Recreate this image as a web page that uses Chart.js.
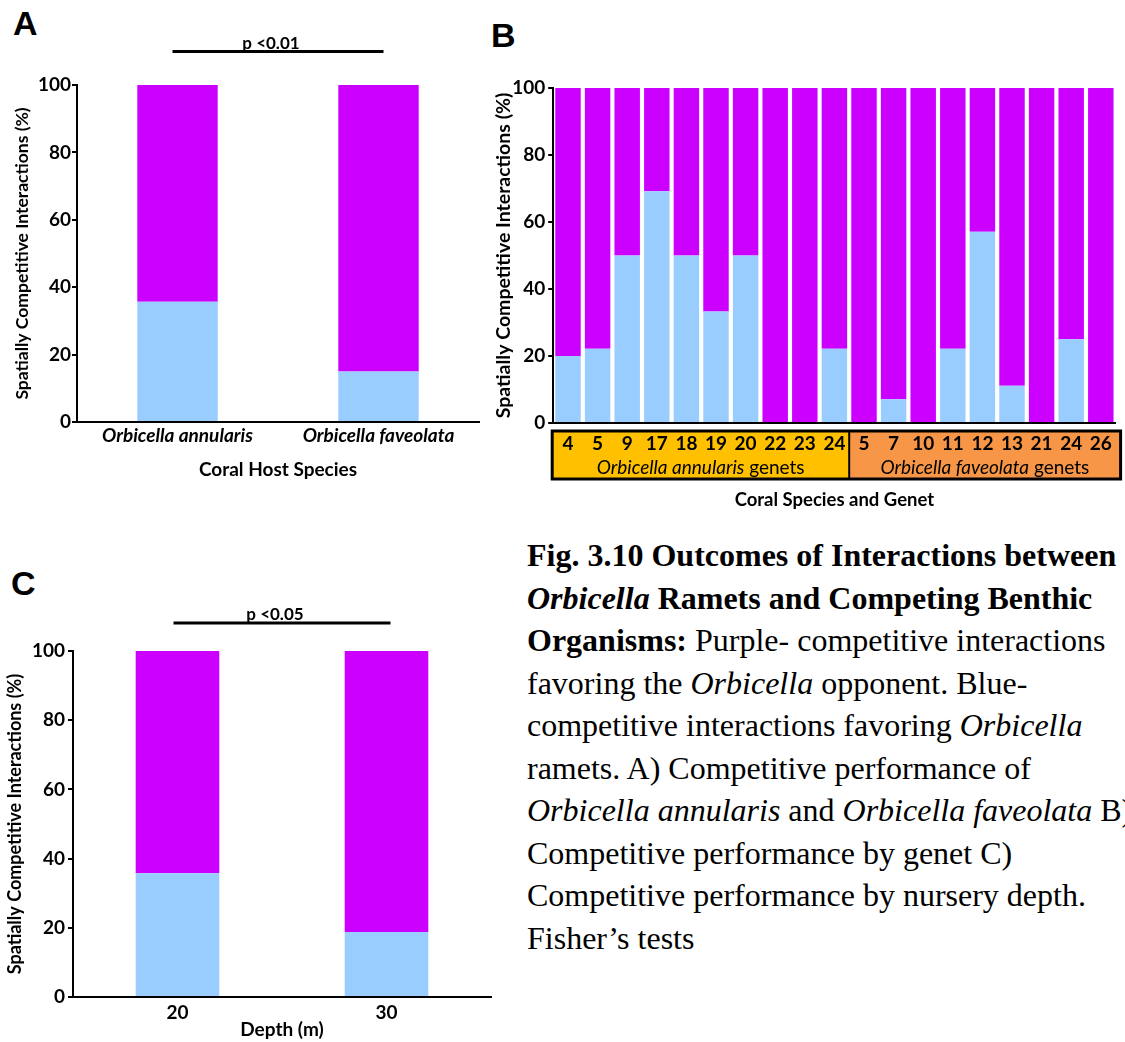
<!DOCTYPE html>
<html>
<head>
<meta charset="utf-8">
<script src="https://cdn.jsdelivr.net/npm/chart.js@4.4.1/dist/chart.umd.min.js"></script>
<style>
  body { margin: 0; width: 1125px; height: 1042px; overflow: hidden; background: #fff; position: relative; }
  canvas { position: absolute; }
  .panel { position: absolute; font: bold 34px "Liberation Sans", Arial, sans-serif; line-height: 34px; }
  #caption {
    position: absolute; left: 527px; top: 534px;
    font-family: "Liberation Serif", "Times New Roman", serif;
    font-size: 32px; line-height: 42.5px; white-space: nowrap; color: #000;
  }
</style>
</head>
<body>
<div class="panel" style="left:13px;top:6px">A</div>
<div class="panel" style="left:491px;top:18px">B</div>
<div class="panel" style="left:11px;top:566px">C</div>

<canvas id="chartA" width="480" height="490" style="left:0;top:0"></canvas>
<canvas id="chartB" width="645" height="520" style="left:480px;top:0"></canvas>
<canvas id="chartC" width="500" height="502" style="left:0;top:540px"></canvas>

<div id="caption">
<b>Fig. 3.10 Outcomes of Interactions between</b><br>
<b><i>Orbicella</i> Ramets and Competing Benthic</b><br>
<b>Organisms:</b> Purple- competitive interactions<br>
favoring the <i>Orbicella</i> opponent. Blue-<br>
competitive interactions favoring <i>Orbicella</i><br>
ramets. A) Competitive performance of<br>
<i>Orbicella annularis</i> and <i>Orbicella faveolata</i> B)<br>
Competitive performance by genet C)<br>
Competitive performance by nursery depth.<br>
Fisher’s tests
</div>

<script>
// Panel A - by species
const speciesLabels = ['Orbicella annularis', 'Orbicella faveolata'];
const speciesBlue = [35.7, 15.0];
const speciesPurple = [64.3, 85.0];

// Panel B - by genet
const genetLabels = ['4', '5', '9', '17', '18', '19', '20', '22', '23', '24',
                     '5', '7', '10', '11', '12', '13', '21', '24', '26'];
const genetBlue = [20, 22.2, 50, 69.2, 50, 33.3, 50, 0, 0, 22.2,
                   0, 7.1, 0, 22.2, 57.1, 11.1, 0, 25, 0];
const genetPurple = [80, 77.8, 50, 30.8, 50, 66.7, 50, 100, 100, 77.8,
                     100, 92.9, 100, 77.8, 42.9, 88.9, 100, 75, 100];
const genetGroups = ['Orbicella annularis', 'Orbicella faveolata'];
const genetGroupSizes = [10, 9];

// Panel C - by nursery depth
const depthLabels = ['20', '30'];
const depthBlue = [35.8, 18.8];
const depthPurple = [64.2, 81.2];

const PURPLE = '#CC00FF';
const BLUE = '#99CCFF';
const groupColors = ['#FFC000', '#F79646'];
const yTitle = 'Spatially Competitive Interactions (%)';

Chart.defaults.font.family = 'Lato, sans-serif';
Chart.defaults.font.weight = 'bold';
Chart.defaults.color = '#000';
Chart.defaults.animation = false;

// p-value bar above the two bars
const sigBar = {
  id: 'sigBar',
  afterDraw(chart, args, opts) {
    if (!opts.text) return;
    const x = chart.scales.x;
    const ctx = chart.ctx;
    const x0 = x.getPixelForValue(0) - opts.overhang;
    const x1 = x.getPixelForValue(1) + opts.overhang;
    ctx.save();
    ctx.strokeStyle = '#000';
    ctx.lineWidth = 3;
    ctx.beginPath();
    ctx.moveTo(x0, opts.y);
    ctx.lineTo(x1, opts.y);
    ctx.stroke();
    ctx.fillStyle = '#000';
    ctx.font = 'bold 17px Lato, sans-serif';
    ctx.textAlign = 'center';
    ctx.textBaseline = 'alphabetic';
    ctx.fillText(opts.text, (x0 + x1) / 2 - 7, opts.y - 3);
    ctx.restore();
  }
};

// coloured box behind the genet numbers
const genetBox = {
  id: 'genetBox',
  beforeDraw(chart, args, opts) {
    if (!opts.top) return;
    const { ctx, chartArea, scales: { x } } = chart;
    const left = chartArea.left - 1;
    const right = chartArea.right + 5;
    let start = 0;
    const edges = [left];
    genetGroupSizes.forEach((n) => {
      start += n;
      if (start < genetLabels.length) {
        edges.push((x.getPixelForValue(start - 1) + x.getPixelForValue(start)) / 2);
      }
    });
    edges.push(right);
    ctx.save();
    for (let i = 0; i < genetGroups.length; i++) {
      ctx.fillStyle = groupColors[i];
      ctx.fillRect(edges[i], opts.top, edges[i + 1] - edges[i], opts.bottom - opts.top);
    }
    ctx.strokeStyle = '#000';
    ctx.lineWidth = 3;
    ctx.strokeRect(left, opts.top, right - left, opts.bottom - opts.top);
    ctx.lineWidth = 2;
    for (let i = 1; i < edges.length - 1; i++) {
      ctx.beginPath();
      ctx.moveTo(edges[i], opts.top);
      ctx.lineTo(edges[i], opts.bottom);
      ctx.stroke();
    }
    ctx.fillStyle = '#000';
    ctx.textBaseline = 'middle';
    const italic = 'italic 19px Lato, sans-serif';
    const plain = '19px Lato, sans-serif';
    for (let i = 0; i < genetGroups.length; i++) {
      ctx.font = italic;
      const w1 = ctx.measureText(genetGroups[i]).width;
      ctx.font = plain;
      const w2 = ctx.measureText(' genets').width;
      const cx = (edges[i] + edges[i + 1]) / 2;
      const tx = cx - (w1 + w2) / 2;
      ctx.textAlign = 'left';
      ctx.font = italic;
      ctx.fillText(genetGroups[i], tx, opts.labelY);
      ctx.font = plain;
      ctx.fillText(' genets', tx + w1, opts.labelY);
    }
    ctx.restore();
  }
};

function yAxis(width, titleSize, tickPad) {
  return {
    stacked: true,
    min: 0,
    max: 100,
    ticks: { stepSize: 20, padding: tickPad, font: { size: 19, weight: 'bold' } },
    grid: { drawOnChartArea: false, drawTicks: true, tickLength: 5, color: '#000', lineWidth: 2 },
    border: { display: true, color: '#000', width: 2 },
    title: { display: true, text: yTitle, font: { size: titleSize, weight: 'bold' }, padding: { top: 4, bottom: 0 } },
    afterFit(scale) { scale.width = width; }
  };
}

function xAxis(height, tickFont, tickPad, title, titleSize, titlePadBottom) {
  return {
    stacked: true,
    ticks: { padding: tickPad, font: tickFont, maxRotation: 0, autoSkip: false },
    grid: { display: false, drawTicks: false },
    border: { display: true, color: '#000', width: 2 },
    title: { display: true, text: title, font: { size: titleSize, weight: 'bold' }, padding: { top: 0, bottom: titlePadBottom } },
    afterFit(scale) { scale.height = height; }
  };
}

function datasets(blue, purple, pct) {
  return [
    { label: 'Favoring Orbicella ramets', data: blue, backgroundColor: BLUE, barPercentage: pct, categoryPercentage: 1 },
    { label: 'Favoring opponent', data: purple, backgroundColor: PURPLE, barPercentage: pct, categoryPercentage: 1 }
  ];
}

// Panel A
new Chart(document.getElementById('chartA'), {
  type: 'bar',
  data: { labels: speciesLabels, datasets: datasets(speciesBlue, speciesPurple, 0.4) },
  options: {
    responsive: false,
    layout: { padding: { left: 7.5, right: 1, top: 85, bottom: 0 } },
    scales: {
      x: xAxis(68, { size: 19, weight: 'bold', style: 'italic' }, 2, 'Coral Host Species', 19, 8.5),
      y: yAxis(69.5, 17.5, 1)
    },
    plugins: {
      legend: { display: false },
      tooltip: { enabled: false },
      sigBar: { text: 'p <0.01', y: 51.5, overhang: 5 }
    }
  },
  plugins: [sigBar]
});

// Panel B
new Chart(document.getElementById('chartB'), {
  type: 'bar',
  data: { labels: genetLabels, datasets: datasets(genetBlue, genetPurple, 0.86) },
  options: {
    responsive: false,
    layout: { padding: { left: 7.8, right: 9.4, top: 88, bottom: 0 } },
    scales: {
      x: xAxis(97, { size: 19, weight: 'bold' }, 9, 'Coral Species and Genet', 18.5, 9),
      y: yAxis(65.4, 19.5, 3)
    },
    plugins: {
      legend: { display: false },
      tooltip: { enabled: false },
      genetBox: { top: 431, bottom: 479, labelY: 468 }
    }
  },
  plugins: [genetBox]
});

// Panel C
new Chart(document.getElementById('chartC'), {
  type: 'bar',
  data: { labels: depthLabels, datasets: datasets(depthBlue, depthPurple, 0.4) },
  options: {
    responsive: false,
    layout: { padding: { left: 0, right: 9, top: 111, bottom: 0 } },
    scales: {
      x: xAxis(45, { size: 19, weight: 'bold' }, 4, 'Depth (m)', 19, 1),
      y: yAxis(73, 18, 3)
    },
    plugins: {
      legend: { display: false },
      tooltip: { enabled: false },
      sigBar: { text: 'p <0.05', y: 83, overhang: 4 }
    }
  },
  plugins: [sigBar]
});
</script>
</body>
</html>
